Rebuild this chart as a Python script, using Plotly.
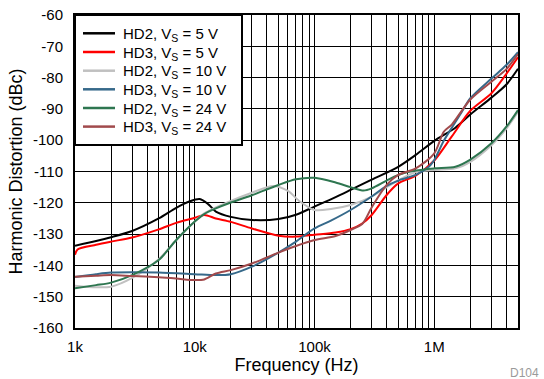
import plotly.graph_objects as go

# HD2, Vs = 5 V
f_hd2_5 = [1e3, 1.5e3, 2e3, 3e3, 5e3, 7e3, 9e3, 11e3, 13e3, 15e3, 20e3, 30e3, 50e3, 70e3,
           100e3, 150e3, 200e3, 300e3, 500e3, 700e3, 1e6, 1.5e6, 2e6, 3e6, 4e6, 5e6]
hd2_5 = [-133.7, -132.2, -131, -129, -125, -121.6, -119.6, -118.8, -120.5, -122.8, -124.5, -125.5,
         -125.2, -123.8, -121.2, -118.2, -115.9, -112.6, -108.5, -104.7, -100.2, -96, -91.8,
         -86.4, -82.2, -77.2]

# HD3, Vs = 5 V
f_hd3_5 = [1e3, 1.05e3, 1.5e3, 2e3, 3e3, 5e3, 7e3, 10e3, 12e3, 15e3, 20e3, 30e3, 50e3, 70e3,
           100e3, 150e3, 200e3, 250e3, 300e3, 400e3, 500e3, 700e3, 1e6, 1.4e6, 2e6, 3e6, 4e6, 5e6]
hd3_5 = [-136.6, -134.9, -133.4, -132.4, -131.1, -128.5, -126.4, -124.8, -123.9, -125, -126.1,
         -128.2, -130.5, -130.8, -130.2, -129.5, -128.4, -126.6, -123.9, -117.5, -113.8, -111.3,
         -106.5, -98.8, -90.6, -85, -78.8, -73.5]

# HD2, Vs = 10 V
f_hd2_10 = [1e3, 1.5e3, 2e3, 3e3, 5e3, 7e3, 10e3, 12e3, 15e3, 20e3, 30e3, 45e3, 60e3, 75e3,
            100e3, 137e3, 200e3, 300e3, 400e3, 500e3, 700e3, 1e6, 1.5e6, 2e6, 3e6, 4e6, 5e6]
hd2_10 = [-146.5, -147, -146.8, -144, -138, -132, -126, -123.4, -121.5, -119.4, -116.8, -114.6,
          -116.2, -119.5, -122.3, -122, -120.7, -118, -115, -112.8, -110.2, -109.5, -109, -106.9,
          -101.6, -96.3, -91]

# HD3, Vs = 10 V
f_hd3_10 = [1e3, 1.5e3, 2e3, 3e3, 5e3, 10e3, 15e3, 20e3, 30e3, 50e3, 70e3, 100e3, 137e3, 200e3,
            300e3, 400e3, 500e3, 700e3, 900e3, 1e6, 1.2e6, 1.4e6, 1.7e6, 2e6, 3e6, 4e6, 5e6]
hd3_10 = [-143.7, -142.8, -142.3, -142.2, -142.3, -142.8, -143.1, -142.8, -140.4, -135.9, -132.4,
          -128.2, -125.7, -122.3, -118, -114.6, -112.9, -111.1, -108.5, -106.3, -100.2, -96,
          -90.9, -86.6, -80.3, -76, -71.9]

# HD2, Vs = 24 V
f_hd2_24 = [1e3, 1.5e3, 2e3, 3e3, 5e3, 7e3, 10e3, 12e3, 15e3, 20e3, 30e3, 50e3, 70e3, 100e3,
            150e3, 200e3, 257e3, 300e3, 400e3, 500e3, 700e3, 1e6, 1.5e6, 2e6, 3e6, 4e6, 5e6]
hd2_24 = [-147.3, -146.3, -145.5, -143.1, -138.3, -131.9, -126, -123.6, -121.8, -119.9, -117.6,
          -114.3, -112.5, -112, -113.5, -115, -116.1, -115.4, -112.9, -111.1, -109.7, -109,
          -108.5, -106.2, -101, -95.7, -90.4]

# HD3, Vs = 24 V
f_hd3_24 = [1e3, 1.5e3, 2e3, 3e3, 5e3, 7e3, 10e3, 12e3, 15e3, 20e3, 30e3, 50e3, 70e3, 100e3,
            150e3, 200e3, 250e3, 300e3, 400e3, 500e3, 700e3, 1e6, 1.2e6, 1.4e6, 2e6, 3e6, 4e6, 5e6]
hd3_24 = [-143.6, -143.3, -143.1, -143.4, -143.8, -144.2, -144.7, -144.5, -142.6, -141.5, -139.4,
          -135.9, -133.8, -131.9, -130.6, -128.7, -126.8, -121.5, -114.3, -111.1, -109, -104.2,
          -97.3, -95, -87, -81.3, -77.3, -72.5]

names = ["HD2, V<sub>S</sub> = 5 V", "HD3, V<sub>S</sub> = 5 V", "HD2, V<sub>S</sub> = 10 V",
         "HD3, V<sub>S</sub> = 10 V", "HD2, V<sub>S</sub> = 24 V", "HD3, V<sub>S</sub> = 24 V"]
freqs = [f_hd2_5, f_hd3_5, f_hd2_10, f_hd3_10, f_hd2_24, f_hd3_24]
values = [hd2_5, hd3_5, hd2_10, hd3_10, hd2_24, hd3_24]
colors = ["#000000", "#ff0000", "#c0c0c0", "#36698a", "#2e7650", "#a14a4c"]

# x grid: every 1..9 per decade, labels only at decades
x_grid = [m * 10 ** e for e in range(3, 7) for m in range(1, 10) if m * 10 ** e <= 5e6]
x_labels = {1e3: "1k", 1e4: "10k", 1e5: "100k", 1e6: "1M"}
x_text = [x_labels.get(v, "") for v in x_grid]
y_ticks = list(range(-160, -59, 10))
y_text = [str(v) for v in y_ticks]

W, H = 544, 379
ML, MR, MT, MB = 75, 26, 15, 51
PW, PH = W - ML - MR, H - MT - MB


def px(x):  # pixel -> paper x
    return (x - ML) / PW


def py(y):  # pixel -> paper y
    return 1 - (y - MT) / PH


fig = go.Figure()
for name, f, v, c in zip(names, freqs, values, colors):
    fig.add_trace(go.Scatter(x=f, y=v, name=name, mode="lines", showlegend=False,
                             line=dict(color=c, width=2, shape="spline", smoothing=0.8)))

font = dict(family="Liberation Sans, Arial, sans-serif", size=15, color="black")

fig.update_layout(
    width=W, height=H,
    margin=dict(l=ML, r=MR, t=MT, b=MB),
    paper_bgcolor="white", plot_bgcolor="white",
    font=font,
    xaxis=dict(type="log", range=[3, 6.699], tickvals=x_grid, ticktext=x_text,
               showgrid=True, gridcolor="black", gridwidth=1,
               showline=True, linecolor="black", linewidth=2, mirror=True,
               ticks="", zeroline=False, automargin=False, ticklabelstandoff=4,
               title=dict(text="Frequency (Hz)", standoff=4)),
    yaxis=dict(range=[-160, -60], tickvals=y_ticks, ticktext=y_text, showgrid=True,
               gridcolor="black", gridwidth=1, showline=True, linecolor="black",
               linewidth=2, mirror=True, ticks="", zeroline=False, ticklabelstandoff=7,
               automargin=False,
               title=dict(text="Harmonic Distortion (dBc)", standoff=6)),
)

# legend box drawn by hand to match the tight row spacing
fig.add_shape(type="rect", xref="paper", yref="paper", x0=px(75), x1=px(242),
              y0=py(145), y1=py(15), line=dict(color="black", width=2),
              fillcolor="white", layer="above")
row_y = [33.3, 52, 70.7, 89.3, 108, 126.6]
for name, c, ry in zip(names, colors, row_y):
    fig.add_shape(type="line", xref="paper", yref="paper", x0=px(83), x1=px(115),
                  y0=py(ry), y1=py(ry), line=dict(color=c, width=2.5), layer="above")
    fig.add_annotation(text=name, xref="paper", yref="paper", x=px(121), y=py(ry + 1),
                       xanchor="left", yanchor="middle", showarrow=False,
                       font=dict(size=15, color="black"))

fig.add_annotation(text="D104", xref="paper", yref="paper", x=px(541), y=py(373),
                   xanchor="right", yanchor="middle", showarrow=False,
                   font=dict(size=12, color="#9a9a9a"))

# drop the browser's default body margin so the figure sits at the page corner
fig.write_html("out.html", config={"displayModeBar": False},
               post_script="document.body.style.margin='0';")
